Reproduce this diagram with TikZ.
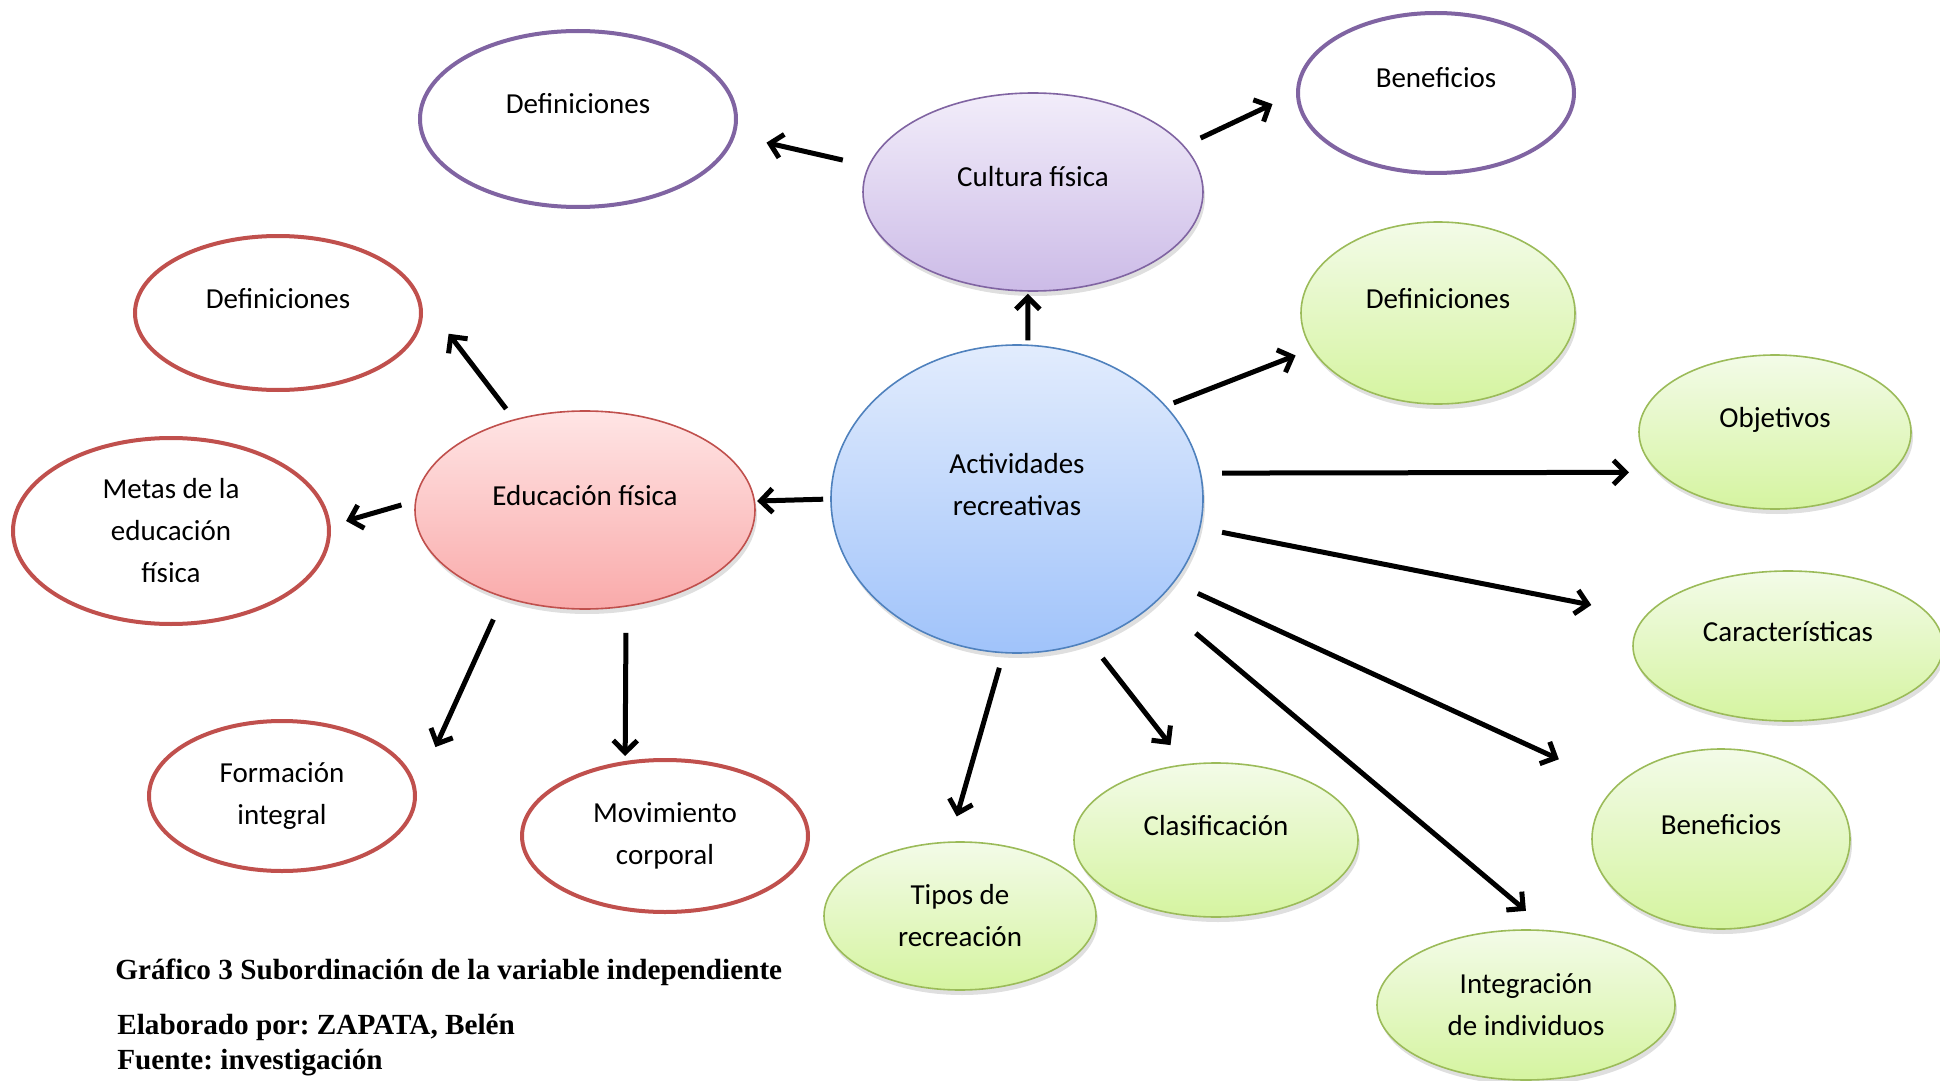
\documentclass[tikz,border=0pt]{standalone}
\usepackage{fontspec}
\setmainfont{Carlito}
\newfontfamily\captionfont{Liberation Serif}
\usetikzlibrary{shapes.geometric,shadows,arrows.meta,positioning}
\frenchspacing

\definecolor{blueline}{RGB}{79,129,189}
\definecolor{bluetop}{RGB}{226,236,253}
\definecolor{bluebot}{RGB}{160,195,250}
\definecolor{purpleline}{RGB}{128,100,162}
\definecolor{purpletop}{RGB}{242,237,250}
\definecolor{purplebot}{RGB}{204,187,231}
\definecolor{redline}{RGB}{192,80,77}
\definecolor{redtop}{RGB}{255,229,229}
\definecolor{redbot}{RGB}{249,170,170}
\definecolor{greenline}{RGB}{155,187,89}
\definecolor{greentop}{RGB}{243,251,232}
\definecolor{greenbot}{RGB}{213,244,160}

\begin{document}
\begin{tikzpicture}[x=0.5pt, y=-0.5pt,
  every node/.style={font=\fontsize{14.5}{21}\selectfont, align=center, inner sep=0pt},
  bubble/.style={shape=ellipse, draw, line width=0.8pt,
    drop shadow={shadow xshift=1pt, shadow yshift=-2.5pt, opacity=0.25}},
  ring/.style={shape=ellipse, draw, line width=2pt, fill=white},
  blue/.style={bubble, draw=blueline, top color=bluetop, bottom color=bluebot},
  lilac/.style={bubble, draw=purpleline, top color=purpletop, bottom color=purplebot},
  rose/.style={bubble, draw=redline, top color=redtop, bottom color=redbot},
  lime/.style={bubble, draw=greenline, top color=greentop, bottom color=greenbot},
  lifted/.style={text height=10pt, text depth=15pt},
  link/.style={line width=2.5pt, -{Straight Barb[length=6pt, width=12pt]}},
  caption/.style={font=\captionfont\bfseries\fontsize{14.6}{17.5}\selectfont, align=left}]
\useasboundingbox (0,0) rectangle (1940,1081);

% centre and first level
\node[blue, minimum width=186pt, minimum height=154pt, text height=31pt, text depth=15pt] (1) at (1017,499) {Actividades\\recreativas};
\node[lilac, minimum width=170pt, minimum height=99pt, lifted] (2) at (1033,192) {Cultura física};
\node[rose, minimum width=170pt, minimum height=99pt, lifted] (12) at (585,510) {Educación física};

% cultura fisica
\node[ring, draw=purpleline, minimum width=158pt, minimum height=88pt, lifted] (3) at (578,119) {Definiciones};
\node[ring, draw=purpleline, minimum width=138pt, minimum height=80pt, lifted] (4) at (1436,93) {Beneficios};

% actividades recreativas
\node[lime, minimum width=137pt, minimum height=91pt, lifted] (5) at (1438,313) {Definiciones};
\node[lime, minimum width=136pt, minimum height=77pt, lifted] (6) at (1775,432) {Objetivos};
\node[lime, minimum width=155pt, minimum height=75pt, lifted] (7) at (1788,646) {Características};
\node[lime, minimum width=129pt, minimum height=90pt, lifted] (8) at (1721,839) {Beneficios};
\node[lime, minimum width=149pt, minimum height=75pt] (9) at (1526,1005) {Integración\\de individuos};
\node[lime, minimum width=142pt, minimum height=77pt, lifted] (10) at (1216,840) {Clasificación};
\node[lime, minimum width=136pt, minimum height=74pt] (11) at (960,916) {Tipos de\\recreación};

% educacion fisica
\node[ring, draw=redline, minimum width=143pt, minimum height=77pt, lifted] (13) at (278,313) {Definiciones};
\node[ring, draw=redline, minimum width=158pt, minimum height=93pt] (14) at (171,531) {Metas de la\\educación\\física};
\node[ring, draw=redline, minimum width=133pt, minimum height=75pt] (15) at (282,796) {Formación\\integral};
\node[ring, draw=redline, minimum width=143pt, minimum height=76pt] (16) at (665,836) {Movimiento\\corporal};

\draw[link, shorten <=13pt, shorten >=16pt] (2.171.6) -- (3.-6.7);
\draw[link, shorten <=9pt, shorten >=13pt] (2.17.8) -- (4.180.7);
\draw[link, shorten <=2pt, shorten >=1pt] (1.86) -- (2.267);
\draw[link, shorten <=4pt, shorten >=8.5pt] (1.32.1) -- (5.196.5);
\draw[link, shorten <=10.5pt, shorten >=14.5pt] (1.8.07) -- (6.199.6);
\draw[link, shorten <=11pt, shorten >=27.5pt] (1.-9.2) -- (7.168.9);
\draw[link, shorten <=13pt, shorten >=31.5pt] (1.-28.9) -- (8.153.1);
\draw[link, shorten <=25pt, shorten >=15pt] (1.-36.1) -- (9.73.9);
\draw[link, shorten <=10.5pt, shorten >=12pt] (1.-63.9) -- (10.112.5);
\draw[link, shorten <=7.5pt, shorten >=13pt] (1.265.2) -- (11.98.8);
\draw[link, shorten <=3.5pt, shorten >=1pt] (1.180.6) -- (12.3);
\draw[link, shorten <=6.5pt, shorten >=24pt] (12.128.4) -- (13.7);
\draw[link, shorten <=7pt, shorten >=8pt] (12.177.6) -- (14.2.7);
\draw[link, shorten <=12pt, shorten >=23pt] (12.227.2) -- (15.3.5);
\draw[link, shorten <=13pt, shorten >=2.5pt] (12.-67.4) -- (16.118.7);

\node[caption, anchor=west] (17) at (115,972) {Gráfico 3 Subordinación de la variable independiente};
\node[caption, anchor=west] (18) at (117,1045) {Elaborado por: ZAPATA, Belén\\Fuente: investigación};
\end{tikzpicture}
\end{document}
